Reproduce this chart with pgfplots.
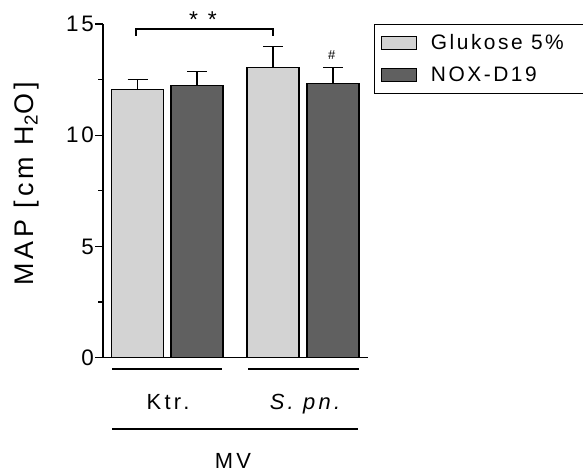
\documentclass[border=0pt]{standalone}
\usepackage{pgfplots}
\pgfplotsset{compat=1.18}
\usepackage{fontspec}
\setmainfont{Liberation Sans}
\newfontfamily\spacedA[LetterSpace=15]{Liberation Sans}
\newfontfamily\spacedB[LetterSpace=12]{Liberation Sans}
\definecolor{lg}{RGB}{211,211,211}
\definecolor{dg}{RGB}{96,96,96}
\begin{document}
\begin{tikzpicture}[x=1bp,y=1bp]
\useasboundingbox (0,0) rectangle (583,472);
\begin{axis}[
  at={(103bp,114.3bp)}, anchor=south west,
  scale only axis, width=265bp, height=333.7bp,
  xmin=103, xmax=368, ymin=0, ymax=15,
  axis lines*=left,
  xtick=\empty, ytick={0,5,10,15}, minor ytick={2.5,7.5,12.5},
  tick align=outside, major tick length=8bp, minor tick length=5bp,
  tick style={line width=1.3bp, black},
  axis line style={line width=1.3bp},
  /pgf/number format/assume math mode=true,
  yticklabel style={font=\spacedB\fontsize{22.5}{26}\selectfont, inner sep=1bp},
  ylabel={MAP [cm H\textsubscript{2}O]},
  ylabel style={font=\spacedA\fontsize{27}{31}\selectfont, at={(axis description cs:-0.29,0.52)}, anchor=center, rotate=0},
  clip=false,
  ybar, bar width=52, bar shift=0pt,
  error bars/y dir=plus, error bars/y explicit,
  error bars/error mark options={rotate=90, mark size=10bp, line width=1.3bp, black},
  error bars/error bar style={line width=1.3bp, black},
  legend style={at={(axis description cs:1.0226,1)}, anchor=north west, draw=black, line width=1.3bp,
    font=\spacedB\fontsize{21}{25}\selectfont, row sep=12bp, inner xsep=6bp, inner ysep=8bp,
    cells={anchor=west}, /tikz/every odd column/.append style={column sep=12bp}},
  legend image code/.code={\draw[#1, line width=1.3bp] (0bp,-6.5bp) rectangle (35bp,6.5bp);},
]
\addplot[fill=lg, draw=black, line width=1.3bp] coordinates {(137.5,12.07) +- (0,0.45) (273,13.04) +- (0,0.94)};
\addplot[fill=dg, draw=black, line width=1.3bp] coordinates {(197,12.22) +- (0,0.64) (333,12.34) +- (0,0.69)};
\legend{Glukose 5\%\hspace*{40bp}, NOX-D19}
\draw[line width=1.3bp] (axis cs:136,14.46) -- (axis cs:136,14.78) -- (axis cs:273,14.78) -- (axis cs:273,14.46);
\node[font=\spacedA\fontsize{23}{24}\selectfont] at (axis cs:203,15.2) {* *};
\node[font=\fontsize{13}{15}\selectfont] at (axis cs:331.7,13.6) {\#};
\draw[line width=1.3bp] (axis cs:112,-0.51) -- (axis cs:222,-0.51);
\draw[line width=1.3bp] (axis cs:248,-0.51) -- (axis cs:359,-0.51);
\node[font=\spacedA\fontsize{22}{24}\selectfont, anchor=base, inner sep=0pt] at (axis cs:168,-2.33) {Ktr.};
\node[font=\spacedA\fontsize{22}{24}\selectfont\itshape, anchor=base, inner sep=0pt] at (axis cs:305,-2.33) {S. pn.};
\draw[line width=1.3bp] (axis cs:112,-3.2) -- (axis cs:358,-3.2);
\node[font=\spacedA\fontsize{22}{24}\selectfont, anchor=base, inner sep=0pt] at (axis cs:233,-4.96) {MV};
\end{axis}
\end{tikzpicture}
\end{document}
